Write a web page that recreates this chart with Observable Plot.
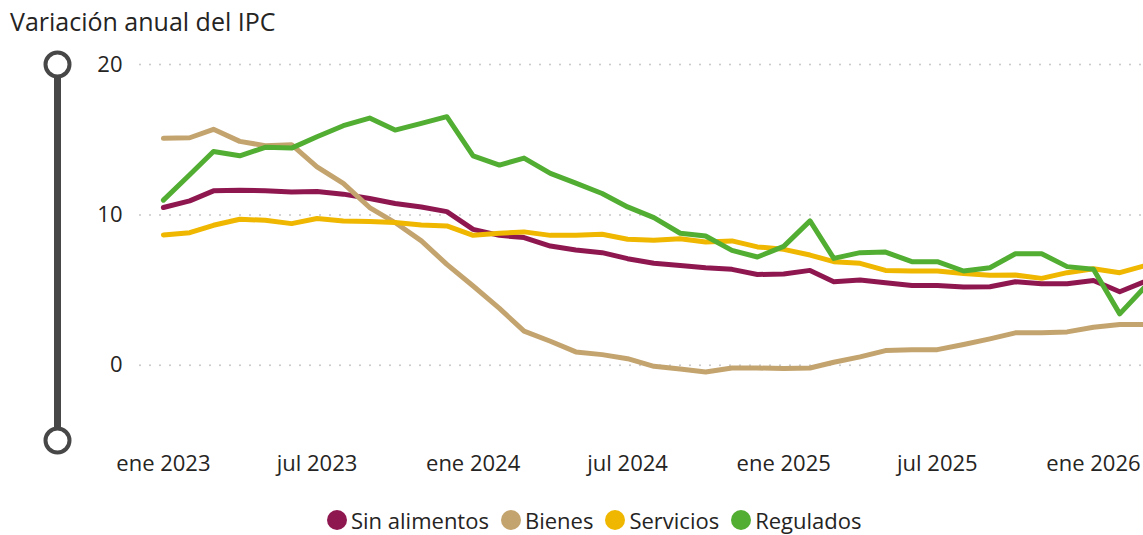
<!DOCTYPE html>
<html>
<head>
<meta charset="utf-8">
<script src="https://cdn.jsdelivr.net/npm/d3@7"></script>
<script src="https://cdn.jsdelivr.net/npm/@observablehq/plot@0.6"></script>
<style>
  html, body { margin: 0; padding: 0; background: #fff; }
  #wrap { position: relative; width: 1143px; height: 535px; overflow: hidden; font-family: "Open Sans", "Noto Sans", sans-serif; color: #252423; }
  #title { position: absolute; left: 10px; top: 4px; font-size: 25px; line-height: 34px; white-space: nowrap; }
  #ylabel { position: absolute; left: -70px; top: 235px; width: 200px; text-align: center; font-size: 21.5px; transform: rotate(-90deg); line-height: 30px; }
  #chart { position: absolute; left: 0; top: 40px; }
  #legend { position: absolute; left: 327px; top: 504px; display: flex; align-items: center; font-size: 22px; line-height: 32px; white-space: nowrap; }
  .item { display: flex; align-items: center; margin-right: 12px; }
  .sw { width: 20px; height: 20px; border-radius: 50%; margin-right: 4px; }
</style>
</head>
<body>
<div id="wrap">
  <div id="title">Variación anual del IPC</div>
  <div id="ylabel">Porcentaje</div>
  <div id="chart"></div>
  <div id="legend"></div>
</div>
<script>
// ---- Data ----
const months = [
  "2023-01","2023-02","2023-03","2023-04","2023-05","2023-06","2023-07","2023-08","2023-09","2023-10","2023-11","2023-12",
  "2024-01","2024-02","2024-03","2024-04","2024-05","2024-06","2024-07","2024-08","2024-09","2024-10","2024-11","2024-12",
  "2025-01","2025-02","2025-03","2025-04","2025-05","2025-06","2025-07","2025-08","2025-09","2025-10","2025-11","2025-12",
  "2026-01","2026-02","2026-03"
];
const sinAlimentos = [10.49,10.93,11.6,11.64,11.6,11.53,11.56,11.38,11.09,10.76,10.53,10.22,
  9.04,8.64,8.49,7.93,7.67,7.49,7.09,6.78,6.64,6.49,6.38,6.04,
  6.07,6.31,5.56,5.67,5.49,5.31,5.31,5.2,5.22,5.56,5.42,5.42,
  5.64,4.89,5.53];
const bienes = [15.09,15.13,15.69,14.89,14.6,14.67,13.2,12.09,10.49,9.49,8.27,6.71,
  5.27,3.78,2.27,1.6,0.89,0.71,0.44,-0.07,-0.24,-0.44,-0.18,-0.18,
  -0.22,-0.18,0.2,0.56,0.98,1.04,1.04,1.38,1.76,2.16,2.16,2.22,
  2.53,2.71,2.71];
const servicios = [8.67,8.82,9.31,9.71,9.64,9.42,9.76,9.6,9.56,9.49,9.33,9.27,
  8.64,8.78,8.87,8.64,8.64,8.71,8.38,8.31,8.42,8.2,8.27,7.87,
  7.71,7.33,6.89,6.78,6.31,6.27,6.27,6.11,5.98,6.0,5.78,6.16,
  6.42,6.16,6.6];
const regulados = [10.98,12.67,14.22,13.93,14.49,14.44,15.2,15.93,16.44,15.64,16.09,16.53,
  13.93,13.31,13.78,12.76,12.11,11.42,10.53,9.82,8.78,8.6,7.64,7.2,
  7.91,9.6,7.11,7.49,7.53,6.89,6.89,6.27,6.49,7.42,7.42,6.56,
  6.38,3.42,5.11];

const seriesNames = ["Sin alimentos", "Bienes", "Servicios", "Regulados"];
const seriesColors = ["#8F1750", "#C4A46E", "#EFB700", "#52AE32"];
const yTicks = [0, 10, 20];
const xTicks = ["2023-01","2023-07","2024-01","2024-07","2025-01","2025-07","2026-01"];
const monthNames = ["ene","feb","mar","abr","may","jun","jul","ago","sep","oct","nov","dic"];
const yDomain = [-5, 20];
const xDomain = ["2022-12-05", "2026-03-01"];

// ---- Build table ----
const parse = s => new Date(s.length === 7 ? s + "-01T00:00:00Z" : s + "T00:00:00Z");
const allSeries = [sinAlimentos, bienes, servicios, regulados];
const data = [];
allSeries.forEach((vals, k) => {
  vals.forEach((v, i) => data.push({ date: parse(months[i]), value: v, serie: seriesNames[k] }));
});
const xStart = parse(xDomain[0]);

const chart = Plot.plot({
  width: 1143,
  height: 460,
  marginTop: 24,
  marginBottom: 60,
  marginLeft: 140,
  marginRight: 0,
  style: { fontSize: "22px", fontFamily: "'Open Sans', 'Noto Sans', sans-serif", color: "#252423", background: "white", overflow: "visible" },
  x: {
    type: "utc",
    domain: xDomain.map(parse),
    ticks: xTicks.map(parse),
    tickFormat: d => monthNames[d.getUTCMonth()] + " " + d.getUTCFullYear(),
    tickSize: 0,
    tickPadding: 15,
    label: null
  },
  y: { domain: yDomain, ticks: yTicks, tickSize: 0, tickPadding: 18, label: null },
  color: { domain: seriesNames, range: seriesColors },
  marks: [
    Plot.ruleY(yTicks, { stroke: "#c6c6c6", strokeWidth: 2, strokeDasharray: "0,10", strokeLinecap: "round" }),
    Plot.ruleX([xStart], { y1: () => yDomain[0], y2: () => yDomain[1], stroke: "#474747", strokeWidth: 7, dx: -83 }),
    Plot.dot(yDomain, { x: () => xStart, y: d => d, r: 12, fill: "white", stroke: "#474747", strokeWidth: 4, dx: -83 }),
    Plot.line(data, { x: "date", y: "value", z: "serie", stroke: "serie", strokeWidth: 5, strokeLinejoin: "round", strokeLinecap: "round" })
  ]
});
document.getElementById("chart").appendChild(chart);

// ---- Legend ----
const legend = document.getElementById("legend");
seriesNames.forEach((name, i) => {
  const item = document.createElement("div");
  item.className = "item";
  const sw = document.createElement("span");
  sw.className = "sw";
  sw.style.background = seriesColors[i];
  const t = document.createElement("span");
  t.textContent = name;
  item.appendChild(sw);
  item.appendChild(t);
  legend.appendChild(item);
});
</script>
</body>
</html>
